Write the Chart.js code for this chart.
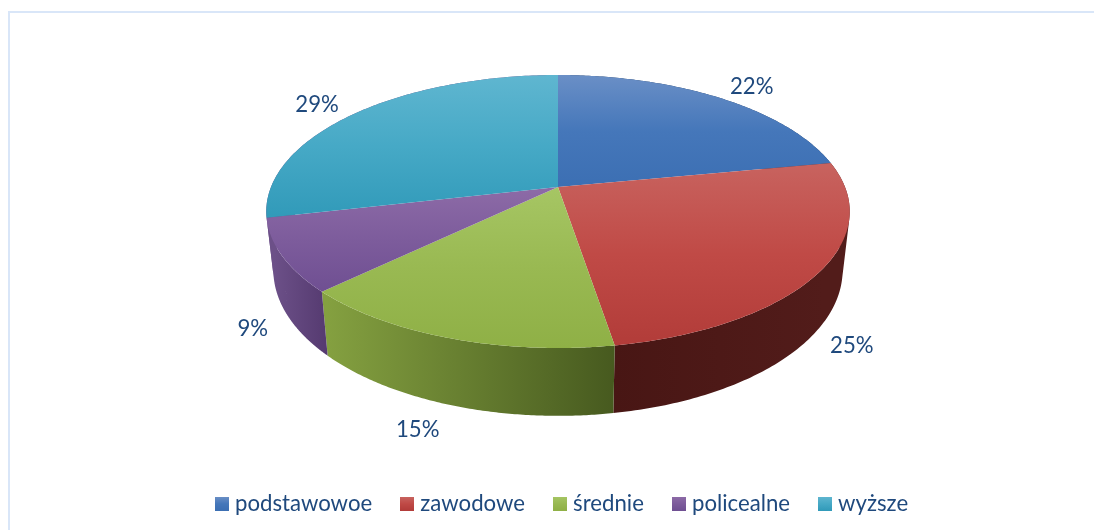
<!DOCTYPE html>
<html>
<head>
<meta charset="utf-8">
<style>
  html, body { margin: 0; padding: 0; background: #fff; overflow: hidden; }
  #frame { position: absolute; left: 8px; top: 11px; right: 0; bottom: 0; border-left: 2px solid #d9e6f8; border-top: 2px solid #d9e6f8; }
  #wrap { position: absolute; left: 0; top: 0; width: 1094px; height: 530px; }
</style>
<script src="https://cdn.jsdelivr.net/npm/chart.js@4"></script>
</head>
<body>
<div id="frame"></div>
<div id="wrap"><canvas id="pieChart" width="1094" height="530"></canvas></div>
<script>
const categories = ["podstawowoe", "zawodowe", "średnie", "policealne", "wyższe"];
const shares = [22.0, 25.4, 15.4, 8.6, 28.6];

// top face gradient, light at the back, full colour at the front
const topColors = [
  ["#6a8fc6", "#4577ba", "#3c6fb3"],
  ["#c8635f", "#c04a46", "#b23c39"],
  ["#a6c664", "#99b952", "#8fb046"],
  ["#8d6ba7", "#7d5c9c", "#6f4f92"],
  ["#5fb6d0", "#46a9c6", "#319ab9"]
];
// the sliver of wyższe wall at the far left is purple in the original too
const wallColors = [
  ["#1f3a60", "#1f3a60"],
  ["#481614", "#521c1a"],
  ["#84a040", "#475a1f"],
  ["#6c5088", "#553a70"],
  ["#6c5088", "#6c5088"]
];
const baseColors = ["#4275b8", "#bb4743", "#9aba55", "#7f5fa0", "#43a8c6"];
const legendFont = "Lato";

// perspective used by the top rim and the bottom rim of the pie
const apexX = 558;
const topRim = {y: 187, rx: 287, ry: 132.1, k: 0.1795};
const bottomRim = {y: 244, rx: 280, ry: 141, k: 0.1795};
// label offset from the rim point at the middle of the slice
const labelOffsets = [[33, -11], [38, 12], [-34, 25], [-36, 11], [-39, -8]];

function project(rim, t) {
  const d = 1 - rim.k * Math.sin(t);
  return {
    x: apexX + rim.rx * Math.cos(t) / d,
    y: rim.y + rim.ry * Math.sin(t) / d
  };
}

function vertical(ctx, y0, y1, stops) {
  const g = ctx.createLinearGradient(0, y0, 0, y1);
  stops.forEach((c, n) => g.addColorStop(n / (stops.length - 1), c));
  return g;
}

function legendSwatch(stops) {
  const c = document.createElement("canvas");
  c.width = 14;
  c.height = 14;
  const ctx = c.getContext("2d");
  ctx.fillStyle = vertical(ctx, 0, 14, stops);
  ctx.fillRect(0, 0, 14, 14);
  return c;
}

function drawWall(ctx, arc, i) {
  const steps = 120;
  const a = arc.startAngle, b = arc.endAngle;
  ctx.beginPath();
  for (let n = 0; n < steps; n++) {
    const t0 = a + (b - a) * n / steps, t1 = a + (b - a) * (n + 1) / steps;
    let q = [project(topRim, t0), project(topRim, t1), project(bottomRim, t1), project(bottomRim, t0)];
    // keep the winding of every quad the same so that folds at the silhouette stay filled
    let area = 0;
    q.forEach((p, j) => { const r = q[(j + 1) % 4]; area += p.x * r.y - r.x * p.y; });
    if (area < 0) q = q.reverse();
    ctx.moveTo(q[0].x, q[0].y);
    q.slice(1).forEach(p => ctx.lineTo(p.x, p.y));
    ctx.closePath();
  }
  const left = Math.min(project(bottomRim, a).x, project(bottomRim, b).x);
  const right = Math.max(project(bottomRim, a).x, project(bottomRim, b).x);
  const g = ctx.createLinearGradient(left, 0, right, 0);
  g.addColorStop(0, wallColors[i][0]);
  g.addColorStop(1, wallColors[i][1]);
  ctx.fillStyle = g;
  ctx.fill();
}

function drawTop(ctx, arc, i) {
  const steps = 120;
  const a = arc.startAngle, b = arc.endAngle;
  let y0 = topRim.y, y1 = topRim.y;
  ctx.beginPath();
  ctx.moveTo(apexX, topRim.y);
  for (let n = 0; n <= steps; n++) {
    const p = project(topRim, a + (b - a) * n / steps);
    ctx.lineTo(p.x, p.y);
    y0 = Math.min(y0, p.y);
    y1 = Math.max(y1, p.y);
  }
  ctx.closePath();
  ctx.fillStyle = vertical(ctx, y0, y1, topColors[i]);
  ctx.fill();
}

function drawLabel(ctx, arc, i) {
  const mid = (arc.startAngle + arc.endAngle) / 2;
  const rim = Math.sin(mid) > 0 ? bottomRim : topRim;
  const p = project(rim, mid);
  ctx.fillStyle = "#1f497d";
  ctx.font = "22.2px " + legendFont;
  ctx.textAlign = "center";
  ctx.textBaseline = "middle";
  ctx.fillText(Math.round(shares[i]) + "%", p.x + labelOffsets[i][0], p.y + labelOffsets[i][1]);
}

// the library works out the slice angles, this only changes how they are painted
const pie3d = {
  id: "pie3d",
  beforeDatasetsDraw(chart) {
    const ctx = chart.ctx;
    const arcs = chart.getDatasetMeta(0).data;
    ctx.save();
    arcs.forEach((arc, i) => drawWall(ctx, arc, i));
    arcs.forEach((arc, i) => drawTop(ctx, arc, i));
    arcs.forEach((arc, i) => drawLabel(ctx, arc, i));
    ctx.restore();
    return false;
  }
};

new Chart(document.getElementById("pieChart"), {
  type: "pie",
  data: {
    labels: categories,
    datasets: [{ data: shares, backgroundColor: baseColors, borderWidth: 0 }]
  },
  options: {
    responsive: false,
    animation: false,
    layout: { padding: { left: 34, bottom: 5 } },
    plugins: {
      tooltip: { enabled: false },
      legend: {
        position: "bottom",
        labels: {
          color: "#1f497d",
          font: { family: legendFont, size: 22.2 },
          usePointStyle: true,
          pointStyleWidth: 4,
          padding: 33,
          generateLabels(chart) {
            const items = Chart.overrides.doughnut.plugins.legend.labels.generateLabels(chart);
            items.forEach((item, i) => { item.pointStyle = legendSwatch(topColors[i]); });
            return items;
          }
        }
      }
    }
  },
  plugins: [pie3d]
});
</script>
</body>
</html>
